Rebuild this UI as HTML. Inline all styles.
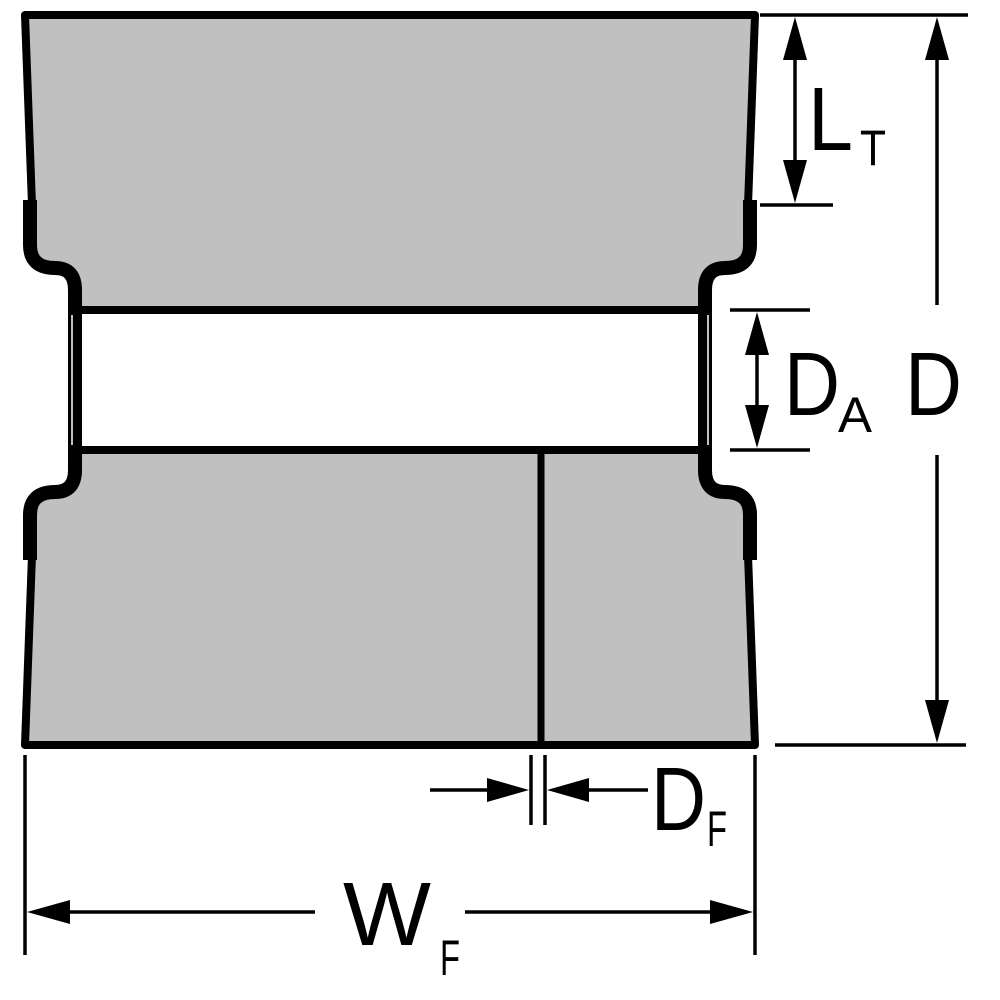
<!DOCTYPE html>
<html><head><meta charset="utf-8"><style>
html,body{margin:0;padding:0;background:#fff;}
svg{display:block}
text{font-family:"Liberation Sans",sans-serif;fill:#000}
</style></head><body>
<svg width="1000" height="1000" viewBox="0 0 1000 1000" xmlns="http://www.w3.org/2000/svg">
<path d="M25,15 L755,15 L748,205 L748,245 Q748,265 728,265 L722,265 Q708,265 708,285 L708,310 L72,310 L72,285 Q72,265 58,265 L52,265 Q32,265 32,245 L32,205 Z" fill="#c0c0c0"/>
<path d="M72,450 L708,450 L708,475 Q708,495 722,495 L728,495 Q748,495 748,515 L748,555 L755,745 L25,745 L32,555 L32,515 Q32,495 52,495 L58,495 Q72,495 72,475 Z" fill="#c0c0c0"/>
<g fill="none" stroke="#000" stroke-linejoin="round">
<path d="M32,205 L25,15 L755,15 L748,205" stroke-width="8"/>
<path d="M32,555 L25,745 L755,745 L748,555" stroke-width="8"/>
<path d="M30,200 L30,245 Q30,268 55,268 Q75,268 75,290 L75,470 Q75,492 55,492 Q30,492 30,515 L30,560" stroke-width="14"/>
<path d="M750,200 L750,245 Q750,268 725,268 Q705,268 705,290 L705,470 Q705,492 725,492 Q750,492 750,515 L750,560" stroke-width="14"/>
<line x1="72" y1="310" x2="708" y2="310" stroke-width="8"/>
<line x1="72" y1="450" x2="708" y2="450" stroke-width="8"/>
<line x1="541" y1="450" x2="541" y2="745" stroke-width="7"/>
</g>
<line x1="72" y1="315" x2="72" y2="445" stroke="#fff" stroke-width="1.5"/>
<line x1="708" y1="315" x2="708" y2="445" stroke="#fff" stroke-width="1.5"/>
<g stroke="#000" stroke-width="3.5" fill="none">
<line x1="760" y1="15" x2="968" y2="15"/>
<line x1="760" y1="205" x2="833" y2="205"/>
<line x1="775" y1="745" x2="966" y2="745"/>
<line x1="730" y1="310" x2="810" y2="310"/>
<line x1="730" y1="450" x2="810" y2="450"/>
<line x1="795" y1="30" x2="795" y2="190"/>
<line x1="937" y1="30" x2="937" y2="305"/>
<line x1="937" y1="455" x2="937" y2="730"/>
<line x1="757" y1="325" x2="757" y2="435"/>
<line x1="531" y1="755" x2="531" y2="825"/>
<line x1="545" y1="755" x2="545" y2="825"/>
<line x1="430" y1="790" x2="515" y2="790"/>
<line x1="560" y1="790" x2="648" y2="790"/>
<line x1="25" y1="755" x2="25" y2="955"/>
<line x1="755" y1="755" x2="755" y2="955"/>
<line x1="40" y1="912" x2="315" y2="912"/>
<line x1="465" y1="912" x2="740" y2="912"/>
</g>
<g fill="#000">
<polygon points="795,17 783,60 807,60"/>
<polygon points="795,203 783,160 807,160"/>
<polygon points="937,17 925,60 949,60"/>
<polygon points="937,743 925,700 949,700"/>
<polygon points="757,312 745,355 769,355"/>
<polygon points="757,448 745,405 769,405"/>
<polygon points="529,790 487,778 487,802"/>
<polygon points="547,790 589,778 589,802"/>
<polygon points="27,912 70,900 70,924"/>
<polygon points="753,912 710,900 710,924"/>
</g>
<text x="808" y="150" font-size="90" textLength="45" lengthAdjust="spacingAndGlyphs">L</text>
<text x="860" y="165" font-size="50" textLength="26" lengthAdjust="spacingAndGlyphs">T</text>
<text x="784" y="415" font-size="90" textLength="56" lengthAdjust="spacingAndGlyphs">D</text>
<text x="838" y="432" font-size="50" textLength="34" lengthAdjust="spacingAndGlyphs">A</text>
<text x="905" y="415" font-size="90" textLength="57" lengthAdjust="spacingAndGlyphs">D</text>
<text x="651" y="830" font-size="90" textLength="55" lengthAdjust="spacingAndGlyphs">D</text>
<text x="707" y="846" font-size="50" textLength="20" lengthAdjust="spacingAndGlyphs">F</text>
<text x="343" y="945" font-size="90" textLength="88" lengthAdjust="spacingAndGlyphs">W</text>
<text x="440" y="975" font-size="50" textLength="20" lengthAdjust="spacingAndGlyphs">F</text>
</svg>
</body></html>
